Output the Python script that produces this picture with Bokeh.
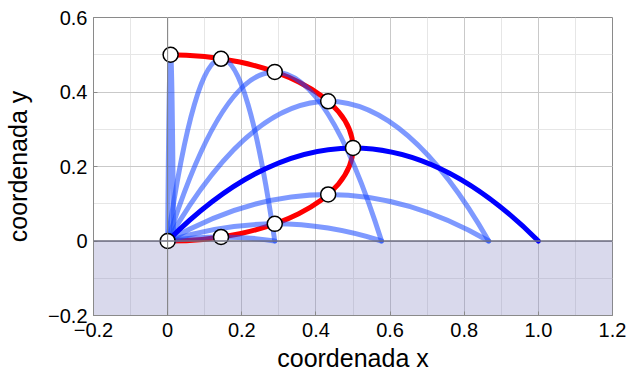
from bokeh.plotting import figure
from bokeh.models import FixedTicker, Span, Range1d
from bokeh.embed import file_html
from bokeh.resources import INLINE

# Projectile trajectories (range, max height) and apex points
traj_range = [0.016, 0.289, 0.577, 0.866, 1.0, 0.866, 0.577, 0.289]
traj_height = [0.4999, 0.489, 0.454, 0.375, 0.25, 0.125, 0.046, 0.011]
traj_style = ["light", "light", "light", "light", "bold", "light", "light", "light"]

apex_x = [0.008, 0.144, 0.289, 0.433, 0.5, 0.433, 0.289, 0.144, 0.0]
apex_y = [0.4999, 0.489, 0.454, 0.375, 0.25, 0.125, 0.046, 0.011, 0.0]

# Envelope of apexes: half ellipse centered (0, 0.25), semi-axes 0.5 / 0.25
ell_cx, ell_cy, ell_a, ell_b = 0.0, 0.25, 0.5, 0.25

x_ticks = [-0.2, 0, 0.2, 0.4, 0.6, 0.8, 1.0, 1.2]
x_labels = ["\u22120.2", "0", "0.2", "0.4", "0.6", "0.8", "1.0", "1.2"]
y_ticks = [-0.2, 0, 0.2, 0.4, 0.6]
y_labels = ["\u22120.2", "0", "0.2", "0.4", "0.6"]

FONT = "Liberation Sans"

p = figure(width=626, height=378, output_backend="svg", toolbar_location=None,
           x_range=Range1d(-0.2, 1.2), y_range=Range1d(-0.2, 0.6),
           min_border_left=93, min_border_right=14, min_border_top=17, min_border_bottom=63)
p.outline_line_color = "#8a8a8a"
p.outline_line_width = 1
p.background_fill_color = "white"
p.border_fill_color = "white"

# grids
for g, ticks in ((p.xgrid, x_ticks), (p.ygrid, y_ticks)):
    g.ticker = FixedTicker(ticks=ticks,
                           minor_ticks=[t / 10 for t in range(-2, 13)])
    g.grid_line_color = "#c9c9c9"
    g.grid_line_width = 1
    g.minor_grid_line_color = "#e6e6e6"
    g.minor_grid_line_width = 1

# axes
p.xaxis.ticker = FixedTicker(ticks=x_ticks)
p.yaxis.ticker = FixedTicker(ticks=y_ticks)
p.xaxis.major_label_overrides = {t: l for t, l in zip(x_ticks, x_labels)}
p.yaxis.major_label_overrides = {t: l for t, l in zip(y_ticks, y_labels)}
for ax in (p.xaxis, p.yaxis):
    ax.major_label_text_font = FONT
    ax.major_label_text_font_size = "20px"
    ax.major_label_text_color = "black"
    ax.axis_label_text_font = FONT
    ax.axis_label_text_font_size = "25px"
    ax.axis_label_text_font_style = "normal"
    ax.axis_label_text_color = "black"
    ax.axis_line_color = "#8a8a8a"
    ax.major_tick_line_color = "#8a8a8a"
    ax.major_tick_in = 4
    ax.major_tick_out = 0
    ax.minor_tick_line_color = None
p.xaxis.major_label_standoff = 7
p.yaxis.major_label_standoff = 6
p.xaxis.axis_label = "coordenada x"
p.yaxis.axis_label = "coordenada y"
p.xaxis.axis_label_standoff = 4
p.yaxis.axis_label_standoff = 13

# ground shading
p.quad(left=[-0.2], right=[1.2], bottom=[-0.2], top=[0.0],
       fill_color="#8080c0", fill_alpha=0.3, line_color=None)
p.add_layout(Span(location=0, dimension="width", line_color="#6e6e80", line_width=1.5))
p.add_layout(Span(location=0, dimension="height", line_color="#808080", line_width=1))

# apex envelope (red)
k = 0.5523
p.bezier(x0=[ell_cx, ell_cx + ell_a], y0=[ell_cy - ell_b, ell_cy],
         x1=[ell_cx + ell_a, ell_cx], y1=[ell_cy, ell_cy + ell_b],
         cx0=[ell_cx + ell_a * k, ell_cx + ell_a], cy0=[ell_cy - ell_b, ell_cy + ell_b * k],
         cx1=[ell_cx + ell_a, ell_cx + ell_a * k], cy1=[ell_cy - ell_b * k, ell_cy + ell_b],
         line_color="red", line_width=5)

# trajectories
for R, H, s in zip(traj_range, traj_height, traj_style):
    if s == "light":
        p.quadratic(x0=[0], y0=[0], x1=[R], y1=[0], cx=[R / 2], cy=[2 * H],
                    line_color="#1446ff", line_alpha=0.55, line_width=5, line_cap="round")
for R, H, s in zip(traj_range, traj_height, traj_style):
    if s == "bold":
        p.quadratic(x0=[0], y0=[0], x1=[R], y1=[0], cx=[R / 2], cy=[2 * H],
                    line_color="#0000ff", line_width=5, line_cap="round")

# apex markers
p.scatter(apex_x, apex_y, size=15, fill_color="white", line_color="black", line_width=1.5)

open("out.html", "w").write(file_html(p, INLINE))
